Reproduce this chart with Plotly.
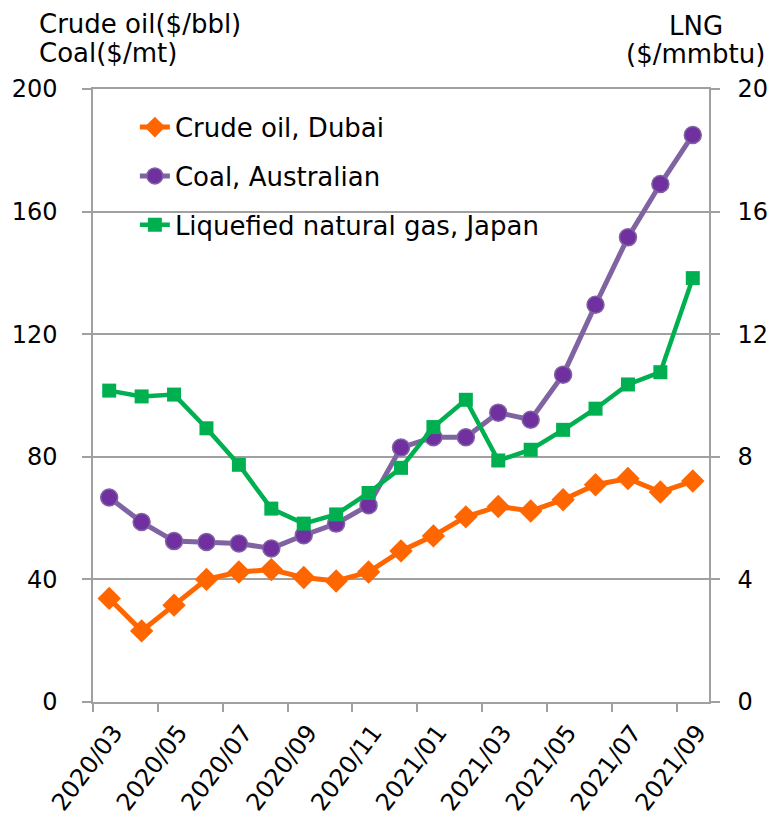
import plotly.graph_objects as go

# Monthly prices, March 2020 - September 2021
months = ["2020/03", "2020/04", "2020/05", "2020/06", "2020/07", "2020/08",
          "2020/09", "2020/10", "2020/11", "2020/12", "2021/01", "2021/02",
          "2021/03", "2021/04", "2021/05", "2021/06", "2021/07", "2021/08",
          "2021/09"]
crude_dubai = [33.8, 23.2, 31.6, 40.0, 42.4, 43.2, 40.6, 39.5, 42.4, 49.3,
               54.2, 60.4, 63.8, 62.3, 66.0, 70.9, 72.9, 68.5, 72.1]
coal_australian = [66.7, 58.7, 52.5, 52.2, 51.7, 50.1, 54.4, 58.2, 64.2, 83.0,
                   86.4, 86.4, 94.4, 92.1, 106.8, 129.6, 151.6, 169.0, 185.0]
lng_japan = [10.16, 9.97, 10.03, 8.93, 7.74, 6.31, 5.82, 6.12, 6.82, 7.64,
             8.97, 9.86, 7.88, 8.23, 8.88, 9.57, 10.36, 10.76, 13.83]

left_ticks = [0, 40, 80, 120, 160, 200]
right_ticks = [0, 4, 8, 12, 16, 20]

FONT = "DejaVu Sans"
GRID = "#A0A0A0"

idx = list(range(len(months)))
# month labels sit slightly right of the month boundary tick marks
label_pos = [i + 0.15 for i in idx[::2]]
label_txt = months[::2]
boundary_ticks = [i - 0.5 for i in idx[::2]]

fig = go.Figure()

fig.add_trace(go.Scatter(
    x=idx, y=crude_dubai, name="Crude oil, Dubai", mode="lines+markers",
    line=dict(color="#FF6600", width=5),
    marker=dict(symbol="diamond", size=18, color="#FF6600"),
    legendgroup="a", yaxis="y"))

fig.add_trace(go.Scatter(
    x=idx, y=coal_australian, name="Coal, Australian", mode="lines+markers",
    line=dict(color="#8064A2", width=5),
    marker=dict(symbol="circle", size=17, color="#7030A0",
                line=dict(color="#8064A2", width=1.5)),
    legendgroup="b", yaxis="y"))

fig.add_trace(go.Scatter(
    x=idx, y=lng_japan, name="Liquefied natural gas, Japan", mode="lines+markers",
    line=dict(color="#00B050", width=4.5),
    marker=dict(symbol="square", size=14, color="#00B050"),
    legendgroup="c", yaxis="y2"))

fig.update_layout(
    width=772, height=814,
    margin=dict(l=93, r=63, t=89, b=112),
    paper_bgcolor="white", plot_bgcolor="white",
    font=dict(family=FONT, size=24, color="#000000"),
    showlegend=True,
    legend=dict(x=0.068, y=0.976, xanchor="left", yanchor="top",
                bgcolor="rgba(0,0,0,0)", font=dict(size=26),
                tracegroupgap=12),
    xaxis=dict(
        range=[-0.5, 18.5], tickmode="array", tickvals=label_pos,
        ticktext=label_txt, ticks="", tickangle=-53, automargin=False,
        showgrid=False, zeroline=False, ticklabelstandoff=5,
        showline=True, linecolor=GRID, linewidth=1.5, mirror=True,
        tickfont=dict(size=24),
        minor=dict(tickmode="array", tickvals=boundary_ticks, ticks="outside",
                   ticklen=8, tickcolor=GRID, tickwidth=1.5, showgrid=False)),
    yaxis=dict(
        range=[0, 200], tickmode="array", tickvals=left_ticks,
        ticks="outside", ticklen=9, tickcolor=GRID, tickwidth=1.5,
        showgrid=True, gridcolor=GRID, gridwidth=1.5, zeroline=False,
        showline=True, linecolor=GRID, linewidth=1.5, automargin=False,
        ticklabelstandoff=20, tickfont=dict(size=24)),
    yaxis2=dict(
        range=[0, 20], tickmode="array", tickvals=right_ticks,
        overlaying="y", side="right", automargin=False,
        ticks="outside", ticklen=9, tickcolor=GRID, tickwidth=1.5,
        showgrid=False, zeroline=False,
        showline=True, linecolor=GRID, linewidth=1.5,
        ticklabelstandoff=13, tickfont=dict(size=24)),
)


def py(px):
    # convert a pixel row to paper coordinates of the plot area
    return (702 - px) / 613


def pxx(px):
    return (px - 93) / 615.5


titles = [
    ("Crude oil($/bbl)", 37, 24.5, "left"),
    ("Coal($/mt)", 37, 53, "left"),
    ("LNG", 696, 26, "center"),
    ("($/mmbtu)", 695.5, 54, "center"),
]
for text, x, y, anchor in titles:
    fig.add_annotation(text=text, xref="paper", yref="paper",
                       x=pxx(x), y=py(y), xanchor=anchor, yanchor="middle",
                       showarrow=False, font=dict(family=FONT, size=26))

fig.write_html("out.html")
